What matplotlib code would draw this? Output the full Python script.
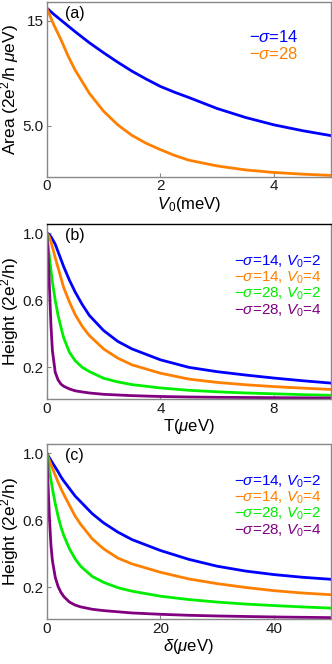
import matplotlib
matplotlib.use("Agg")
import matplotlib.pyplot as plt

plt.rcParams['font.family'] = ['Liberation Sans', 'DejaVu Sans']
plt.rcParams['mathtext.fontset'] = 'custom'
plt.rcParams['mathtext.rm'] = 'Liberation Sans'
plt.rcParams['mathtext.it'] = 'Liberation Sans:italic'
plt.rcParams['mathtext.bf'] = 'Liberation Sans:bold'

# ---- panel (a): area vs V0 ----
v0_a = [0, 0.125, 0.25, 0.375, 0.5, 0.75, 1.0, 1.25, 1.5, 1.75, 2.0, 2.25, 2.5,
        3.0, 3.5, 4.0, 4.5, 5.0]
area_s14 = [16.2, 15.6, 15.05, 14.5, 13.95, 12.9, 11.95, 11.05, 10.2, 9.45, 8.75, 8.2, 7.7,
            6.65, 5.8, 5.1, 4.55, 4.08]
area_s28 = [16.2, 14.6, 13.2, 11.65, 10.3, 8.1, 6.4, 5.1, 4.1, 3.35, 2.75, 2.2, 1.75,
            1.2, 0.82, 0.58, 0.42, 0.3]
labels_a = ['\u2212$\\sigma$=14', '\u2212$\\sigma$=28']

# ---- panel (b): height vs T ----
t_b = [0, 0.05, 0.1, 0.15, 0.2, 0.3, 0.4, 0.5, 0.6, 0.8, 1.0, 1.25, 1.5, 2.0, 2.5,
       3.0, 4.0, 5.0, 6.0, 7.0, 8.0, 9.0, 10.0]
hb_s14_v2 = [1.0, 0.998, 0.99, 0.98, 0.965, 0.935, 0.89, 0.845, 0.80, 0.72, 0.65, 0.575, 0.51,
             0.42, 0.355, 0.31, 0.245, 0.2, 0.174, 0.154, 0.136, 0.12, 0.106]
hb_s14_v4 = [1.0, 0.99, 0.975, 0.95, 0.918, 0.855, 0.795, 0.735, 0.675, 0.59, 0.515, 0.445, 0.39,
             0.31, 0.255, 0.215, 0.165, 0.13, 0.11, 0.096, 0.085, 0.076, 0.068]
hb_s28_v2 = [1.0, 0.93, 0.85, 0.78, 0.71, 0.60, 0.51, 0.44, 0.375, 0.29, 0.24, 0.20, 0.175,
             0.135, 0.113, 0.097, 0.077, 0.063, 0.054, 0.047, 0.042, 0.037, 0.033]
hb_s28_v4 = [1.0, 0.88, 0.66, 0.45, 0.30, 0.17, 0.125, 0.10, 0.087, 0.071, 0.06, 0.053, 0.047,
             0.039, 0.035, 0.031, 0.026, 0.023, 0.021, 0.02, 0.019, 0.018, 0.017]

# ---- panel (c): height vs delta ----
d_c = [0, 0.25, 0.5, 0.75, 1.0, 1.5, 2, 2.5, 3, 4, 5, 6, 8, 10, 12.5, 15, 20, 25,
       30, 35, 40, 45, 50]
hc_s14_v2 = [1.0, 0.986, 0.972, 0.958, 0.944, 0.917, 0.89, 0.86, 0.835, 0.79, 0.745, 0.71, 0.64,
             0.585, 0.53, 0.485, 0.42, 0.367, 0.326, 0.297, 0.276, 0.26, 0.248]
hc_s14_v4 = [1.0, 0.977, 0.955, 0.933, 0.911, 0.87, 0.828, 0.79, 0.755, 0.69, 0.625, 0.575, 0.49,
             0.43, 0.375, 0.34, 0.29, 0.25, 0.222, 0.199, 0.18, 0.166, 0.156]
hc_s28_v2 = [1.0, 0.95, 0.89, 0.84, 0.79, 0.70, 0.625, 0.56, 0.51, 0.43, 0.37, 0.325, 0.265,
             0.23, 0.198, 0.177, 0.147, 0.127, 0.112, 0.10, 0.091, 0.083, 0.076]
hc_s28_v4 = [1.0, 0.80, 0.60, 0.45, 0.36, 0.26, 0.205, 0.17, 0.145, 0.112, 0.094, 0.083, 0.069,
             0.061, 0.054, 0.047, 0.039, 0.033, 0.029, 0.026, 0.023, 0.021, 0.019]

labels_bc = ['\u2212$\\sigma$=14, $V_0$=2', '\u2212$\\sigma$=14, $V_0$=4',
             '\u2212$\\sigma$=28, $V_0$=2', '\u2212$\\sigma$=28, $V_0$=4']

colors = ['#0000ff', '#ff8000', '#00ee00', '#800080']
frame = '#888888'


def style_axes(ax, xticks, yticks, yticklabels, xlim, ylim):
    ax.set_xlim(*xlim)
    ax.set_ylim(*ylim)
    ax.set_xticks(xticks)
    ax.set_xticklabels([str(x) for x in xticks])
    ax.set_yticks(yticks)
    ax.set_yticklabels(yticklabels)
    for s in ax.spines.values():
        s.set_color(frame)
        s.set_linewidth(1.0)
    ax.tick_params(direction='in', length=3, width=0.8, color=frame,
                   labelsize=11, labelcolor='#1a1a1a', pad=2)


fig = plt.figure(figsize=(3.32, 6.64), dpi=100)
ax_a = fig.add_axes([0.1407, 0.7339, 0.856, 0.2636])
ax_b = fig.add_axes([0.1407, 0.3991, 0.856, 0.2636])
ax_c = fig.add_axes([0.1407, 0.0678, 0.856, 0.2636])

# (a)
for y, c in zip([area_s14, area_s28], colors):
    ax_a.plot(v0_a, y, color=c, lw=2.0)
style_axes(ax_a, [0, 2, 4], [5, 15], ['5.0', '15'], (0, 5), (0.18, 16.8))
ax_a.set_xlabel('$V_0$(meV)', fontsize=12, labelpad=1)
ax_a.set_ylabel('Area (2e$^2$/h $\\mu$eV)', fontsize=12.5, labelpad=1)
for i, (lab, c) in enumerate(zip(labels_a, colors)):
    ax_a.text(0.712, 0.798 - i * 0.097, lab, color=c, fontsize=12,
              transform=ax_a.transAxes, ha='left', va='center')
ax_a.text(0.064, 0.935, '(a)', fontsize=11.5, transform=ax_a.transAxes,
          ha='left', va='center')

# (b)
for y, c in zip([hb_s14_v2, hb_s14_v4, hb_s28_v2, hb_s28_v4], colors):
    ax_b.plot(t_b, y, color=c, lw=2.0)
style_axes(ax_b, [0, 4, 8], [0.2, 0.6, 1.0], ['0.2', '0.6', '1.0'], (0, 10), (0.011, 1.056))
ax_b.spines['top'].set_color('black')
ax_b.set_xlabel('T($\\mu$eV)', fontsize=12, labelpad=1)
ax_b.set_ylabel('Height (2e$^2$/h)', fontsize=12.5, labelpad=1)

# (c)
for y, c in zip([hc_s14_v2, hc_s14_v4, hc_s28_v2, hc_s28_v4], colors):
    ax_c.plot(d_c, y, color=c, lw=2.0)
style_axes(ax_c, [0, 20, 40], [0.2, 0.6, 1.0], ['0.2', '0.6', '1.0'], (0, 50), (0.011, 1.056))
ax_c.set_xlabel('$\\delta$($\\mu$eV)', fontsize=12, labelpad=1)
ax_c.set_ylabel('Height (2e$^2$/h)', fontsize=12.5, labelpad=1)

for ax, tag in [(ax_b, '(b)'), (ax_c, '(c)')]:
    for i, (lab, c) in enumerate(zip(labels_bc, colors)):
        ax.text(0.967, 0.785 - i * 0.093, lab, color=c, fontsize=11,
                transform=ax.transAxes, ha='right', va='center')
    ax.text(0.064, 0.935, tag, fontsize=11.5, transform=ax.transAxes,
            ha='left', va='center')

fig.savefig('out.png', dpi=100)
